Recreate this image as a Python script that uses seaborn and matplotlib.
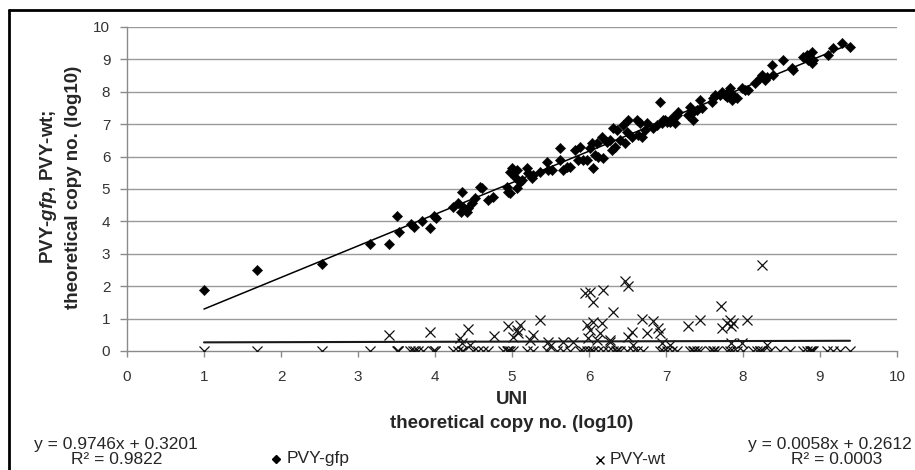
import matplotlib
matplotlib.use("Agg")
import matplotlib.pyplot as plt
from matplotlib.lines import Line2D
import seaborn as sns
import numpy as np
import pandas as pd

# ---------------- data ----------------
gfp_x = [1.00, 1.69, 2.53, 3.16, 3.40, 3.51, 3.53, 3.69, 3.73, 3.83, 3.93, 3.99, 4.01,
         4.23, 4.30, 4.35, 4.34, 4.37, 4.41, 4.43, 4.48, 4.52, 4.58,
         4.61, 4.69, 4.75, 4.93, 4.95, 4.97, 4.97, 5.00, 5.04, 5.06,
         5.06, 5.10, 5.13, 5.19, 5.21, 5.26, 5.27, 5.36, 5.45, 5.47,
         5.52, 5.62, 5.62, 5.66, 5.71, 5.75, 5.82, 5.86, 5.88, 5.92,
         5.97, 6.01, 6.04, 6.05, 6.08, 6.10, 6.12, 6.17, 6.18, 6.23,
         6.27, 6.30, 6.31, 6.34, 6.36, 6.40, 6.44, 6.47, 6.49, 6.51,
         6.56, 6.62, 6.64, 6.66, 6.69, 6.73, 6.75, 6.83, 6.88, 6.92,
         6.95, 6.99, 7.05, 7.09, 7.14,
         6.96, 7.01, 7.08, 7.12, 7.16, 7.29, 7.31, 7.35, 7.35, 7.40,
         7.44, 7.47, 7.60, 7.61, 7.64, 7.70, 7.73, 7.77, 7.79, 7.81,
         7.83, 7.86, 7.87, 7.92, 7.99, 8.03, 8.06, 8.16, 8.22, 8.25,
         8.29, 8.31, 8.38, 8.39, 8.52, 8.64, 8.65, 8.78, 8.83, 8.84,
         8.90, 8.90, 8.91, 9.10, 9.17, 9.29, 9.39]
gfp_y = [1.88, 2.50, 2.69, 3.30, 3.30, 4.17, 3.67, 3.92, 3.83, 4.01, 3.80, 4.17, 4.10,
         4.44, 4.57, 4.91, 4.29, 4.44, 4.29, 4.41, 4.57, 4.72, 5.06,
         5.03, 4.66, 4.75, 5.06, 4.91, 4.88, 5.53, 5.65, 5.37, 5.03,
         5.59, 5.22, 5.28, 5.65, 5.49, 5.34, 5.43, 5.53, 5.83, 5.59,
         5.59, 6.27, 5.90, 5.59, 5.68, 5.68, 6.20, 5.90, 6.30, 5.90,
         5.90, 6.27, 6.42, 5.65, 6.05, 6.42, 5.99, 6.60, 5.96, 6.45,
         6.51, 6.20, 6.88, 6.30, 6.82, 6.51, 6.98, 6.42, 6.76, 7.13,
         6.60, 7.13, 6.67, 7.04, 6.60, 6.82, 7.04, 6.88, 6.98, 7.69,
         7.04, 7.13, 7.07, 7.22, 7.28,
         7.13, 7.07, 7.13, 7.04, 7.38, 7.28, 7.53, 7.13, 7.38, 7.44,
         7.75, 7.50, 7.69, 7.81, 7.90, 7.90, 7.99, 7.90, 7.84, 7.99,
         8.12, 7.75, 7.90, 7.81, 8.12, 8.06, 8.06, 8.27, 8.43, 8.52,
         8.36, 8.46, 8.83, 8.52, 8.98, 8.73, 8.67, 9.07, 9.14, 8.98,
         9.23, 8.89, 8.98, 9.14, 9.35, 9.51, 9.38]

# PVY-wt: samples measured at zero
wt_zero_x = [1.00, 1.69, 2.53, 3.16, 3.51, 3.52, 3.52, 3.68, 3.71, 3.74, 3.78, 3.84,
             3.97, 4.00, 4.00, 4.23, 4.30, 4.35, 4.36, 4.49, 4.56, 4.62, 4.69,
             4.88, 4.94, 4.95, 4.95, 4.97, 5.01, 5.19, 5.27, 5.45, 5.58, 5.66,
             5.75, 5.88, 5.92, 5.97, 6.01, 6.05, 6.05, 6.12, 6.18, 6.25, 6.31,
             6.35, 6.36, 6.40, 6.49, 6.57, 6.62, 6.70, 6.92, 6.96, 7.01, 7.08,
             7.14, 7.31, 7.35, 7.36, 7.40, 7.44, 7.57, 7.61, 7.62, 7.66, 7.79,
             7.83, 7.87, 7.92, 8.00, 8.13, 8.18, 8.22, 8.22, 8.26, 8.35, 8.48,
             8.61, 8.78, 8.83, 8.87, 8.88, 8.90, 8.91, 9.09, 9.17, 9.26, 9.39]
# PVY-wt: samples with non-zero value
wt_pos_x = [3.40, 3.93, 4.32, 4.35, 4.43, 4.45, 4.77, 4.95, 5.01, 5.06, 5.10, 5.08,
            5.23, 5.27, 5.36, 5.47, 5.49, 5.66, 5.79, 5.95, 6.01, 6.05, 6.18, 5.97,
            6.01, 6.05, 6.17, 6.31, 5.99, 6.10, 6.14, 6.27, 8.25, 6.47, 6.51, 6.69,
            6.83, 6.90, 6.92, 6.75, 6.56, 6.51, 7.29, 7.44, 7.71, 7.73, 7.79, 7.83,
            7.85, 7.87, 8.05, 7.85, 7.99, 8.31, 6.95, 7.05, 6.27, 6.57]
wt_pos_y = [0.49, 0.59, 0.40, 0.25, 0.68, 0.19, 0.46, 0.77, 0.43, 0.65, 0.80, 0.55,
            0.34, 0.49, 0.96, 0.28, 0.15, 0.28, 0.28, 1.79, 1.82, 1.51, 1.88, 0.80,
            0.65, 0.90, 0.86, 1.20, 0.40, 0.34, 0.55, 0.28, 2.65, 2.16, 2.01, 0.99,
            0.93, 0.71, 0.55, 0.55, 0.59, 0.43, 0.77, 0.96, 1.39, 0.71, 0.86, 0.96,
            0.77, 0.86, 0.96, 0.25, 0.25, 0.19, 0.25, 0.19, 0.34, 0.19]

gfp_coef = (0.9746, 0.3201)
wt_coef = (0.0058, 0.2612)
trend_range = (1.0, 9.39)

x_ticks = list(range(0, 11))
y_ticks = list(range(0, 11))

# ---------------- plotting ----------------
sns.set_style("white")
plt.rcParams["font.family"] = ["Liberation Sans", "DejaVu Sans"]
plt.rcParams["mathtext.fontset"] = "custom"
plt.rcParams["mathtext.rm"] = "Liberation Sans"
plt.rcParams["mathtext.it"] = "Liberation Sans:italic"
plt.rcParams["mathtext.bf"] = "Liberation Sans:bold"
plt.rcParams["mathtext.bfit"] = "Liberation Sans:bold:italic"

W, H = 915, 470
fig = plt.figure(figsize=(W / 100, H / 100), dpi=100)
ax = fig.add_axes([127 / W, 1 - 351 / H, (897 - 127) / W, (351 - 27) / H])

gfp_df = pd.DataFrame({"x": gfp_x, "y": gfp_y})
wt_df = pd.DataFrame({"x": wt_zero_x + wt_pos_x,
                      "y": [0.0] * len(wt_zero_x) + wt_pos_y})

sns.scatterplot(data=wt_df, x="x", y="y", marker="x", color="#111111",
                s=52, linewidth=0.9, ax=ax, zorder=3, legend=False)
sns.scatterplot(data=gfp_df, x="x", y="y", marker="D", color="black",
                edgecolor="black", s=28, linewidth=0.3, ax=ax, zorder=4, legend=False)

tx = np.array(trend_range)
ax.plot(tx, gfp_coef[0] * tx + gfp_coef[1], color="black", lw=1.1, zorder=5)
ax.plot(tx, wt_coef[0] * tx + wt_coef[1], color="#1a1a1a", lw=1.5, zorder=5)

ax.set_xlim(0, 10)
ax.set_ylim(0, 10)
ax.set_xticks(x_ticks)
ax.set_yticks(y_ticks)
ax.set_xlabel("")
ax.set_ylabel("")
for yv in y_ticks[1:]:
    ax.axhline(yv, color="#9a9a9a", lw=1.0, zorder=1)

for s in ["top", "right"]:
    ax.spines[s].set_visible(False)
for s in ["left", "bottom"]:
    ax.spines[s].set_color("#8a8a8a")
    ax.spines[s].set_linewidth(1.0)
ax.tick_params(axis="x", direction="out", length=4, width=1, color="#8a8a8a",
               pad=10, labelsize=11, labelcolor="#333333", bottom=True)
ax.tick_params(axis="y", direction="out", length=5, width=1, color="#8a8a8a",
               pad=7, labelsize=11, labelcolor="#333333", left=True)

# axis titles
fig.text(512 / W, 1 - 400 / H, "UNI", ha="center", va="center",
         fontsize=13.5, fontweight="bold")
fig.text(512 / W, 1 - 423 / H, "theoretical copy no. (log10)", ha="center",
         va="center", fontsize=13.5, fontweight="bold")
fig.text(49 / W, 1 - 187 / H, r"PVY-$\mathbfit{gfp}$, PVY-wt;", rotation=90,
         ha="center", va="center", fontsize=13.5, fontweight="bold")
fig.text(73 / W, 1 - 187 / H, "theoretical copy no. (log10)", rotation=90,
         ha="center", va="center", fontsize=13.5, fontweight="bold")

# trendline labels
fig.text(116 / W, 1 - 444 / H, "y = 0.9746x + 0.3201", ha="center", va="center",
         fontsize=12.5)
fig.text(117 / W, 1 - 459 / H, "R² = 0.9822", ha="center", va="center",
         fontsize=12.5)
fig.text(912 / W, 1 - 444 / H, "y = 0.0058x + 0.2612", ha="right", va="center",
         fontsize=12.5)
fig.text(837 / W, 1 - 459 / H, "R² = 0.0003", ha="center", va="center",
         fontsize=12.5)

# legend entries
fig.add_artist(Line2D([276 / W], [1 - 459 / H], marker="D", color="black",
                      markersize=4.2, linestyle="none", transform=fig.transFigure))
fig.text(287 / W, 1 - 459 / H, "PVY-gfp", ha="left", va="center", fontsize=12.5)
fig.add_artist(Line2D([600 / W], [1 - 460 / H], marker="x", color="black",
                      markersize=6, markeredgewidth=1.0, linestyle="none",
                      transform=fig.transFigure))
fig.text(610 / W, 1 - 459 / H, "PVY-wt", ha="left", va="center", fontsize=12.5)

# outer frame (left and top edges visible)
fig.add_artist(Line2D([9 / W, 9 / W], [0, 1 - 10 / H], color="black", lw=2,
                      transform=fig.transFigure))
fig.add_artist(Line2D([9 / W, 1], [1 - 10 / H, 1 - 10 / H], color="black", lw=2,
                      transform=fig.transFigure))

fig.savefig("out.png", dpi=100)
